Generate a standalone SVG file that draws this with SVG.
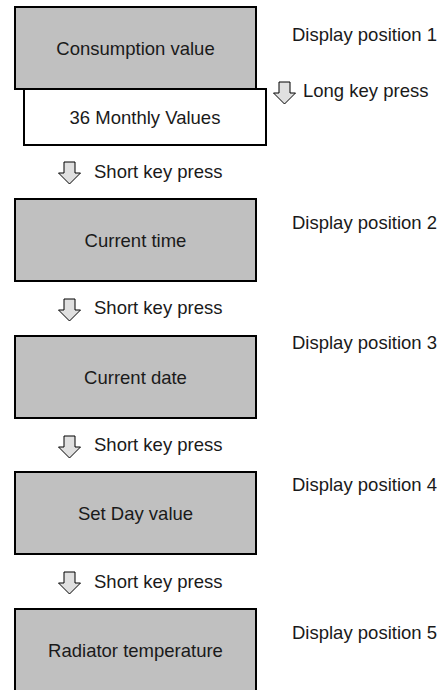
<svg xmlns="http://www.w3.org/2000/svg" width="445" height="690" viewBox="0 0 445 690">
<style>
text{font-family:"Liberation Sans",Arial,sans-serif;font-size:18.5px;fill:#1a1a1a}
.c{text-anchor:middle}
.box{fill:#c0c0c0;stroke:#000;stroke-width:2}
.wbox{fill:#fff;stroke:#000;stroke-width:2}
.arr{fill:#e0e0e0;stroke:#000;stroke-width:1}
</style>
<defs>
<path id="ar" class="arr" d="M-6,0 H5 V11 H10.5 L-0.5,22 L-11.5,11 H-6 Z"/>
</defs>
<g id="n1"><rect class="box" x="15" y="7" width="241" height="82"/><text class="c" x="135.5" y="54.5">Consumption value</text></g>
<g id="n2"><rect class="wbox" x="24" y="89" width="242" height="56"/><text class="c" x="145" y="123.5">36 Monthly Values</text></g>
<g id="n3"><rect class="box" x="15" y="199" width="241" height="82"/><text class="c" x="135.5" y="246.5">Current time</text></g>
<g id="n4"><rect class="box" x="15" y="336" width="241" height="82"/><text class="c" x="135.5" y="383.5">Current date</text></g>
<g id="n5"><rect class="box" x="15" y="472" width="241" height="82"/><text class="c" x="135.5" y="519.5">Set Day value</text></g>
<g id="n6"><rect class="box" x="15" y="609" width="241" height="84"/><text class="c" x="135.5" y="656.5">Radiator temperature</text></g>
<g id="labels">
<text x="292" y="40.5">Display position 1</text>
<text x="292" y="228.5">Display position 2</text>
<text x="292" y="348.5">Display position 3</text>
<text x="292" y="490.5">Display position 4</text>
<text x="292" y="638.5">Display position 5</text>
</g>
<g id="connectors">
<use href="#ar" x="285" y="82"/>
<text x="303" y="96.5">Long key press</text>
<use href="#ar" x="70" y="162"/>
<text x="94" y="177.5">Short key press</text>
<use href="#ar" x="70" y="299"/>
<text x="94" y="313.5">Short key press</text>
<use href="#ar" x="70" y="436"/>
<text x="94" y="450.5">Short key press</text>
<use href="#ar" x="70" y="572"/>
<text x="94" y="587.5">Short key press</text>
</g>
</svg>
